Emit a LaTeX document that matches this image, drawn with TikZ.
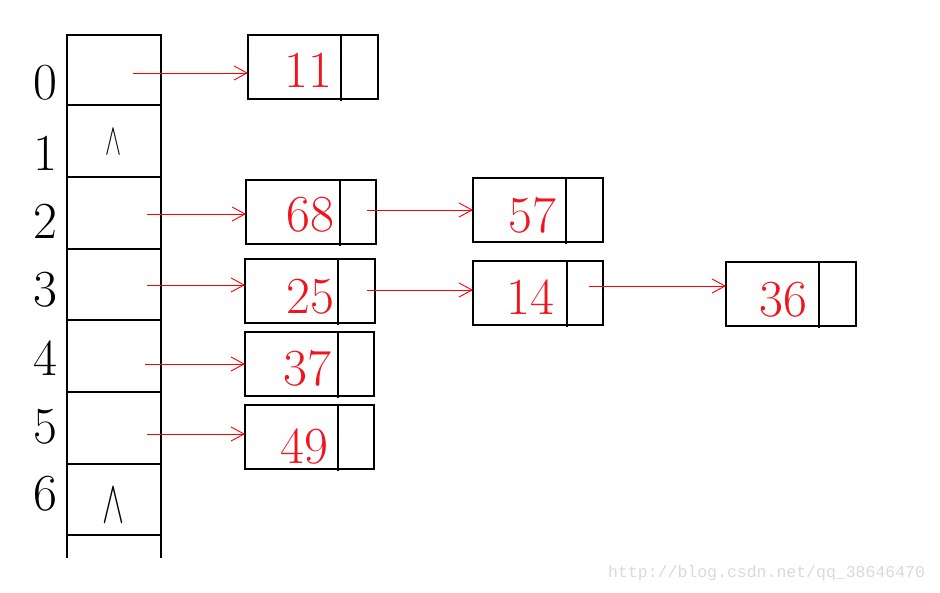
\documentclass[tikz,border=0pt]{standalone}
\usepackage{fontspec}
\newfontfamily\wmfont{Liberation Mono}
\usetikzlibrary{arrows.meta}
\definecolor{myred}{RGB}{240,20,30}
\definecolor{wmgray}{RGB}{218,218,212}
\tikzset{
  cellbox/.style={draw, line width=1.4pt, anchor=north west, inner sep=0pt, outer sep=0pt, minimum width=94pt},
  listbox/.style={draw, line width=1.4pt, anchor=north west, inner sep=0pt, outer sep=0pt, minimum width=130pt, minimum height=64pt},
  idx/.style={font=\fontsize{52}{52}\selectfont, inner sep=0pt},
  num/.style={font=\fontsize{52}{52}\selectfont, text=myred, inner sep=0pt},
  nil/.style={inner sep=0pt},
  arr/.style={draw=red, line width=0.9pt, -{Straight Barb[length=13pt,width=14pt,line width=0.9pt]}},
  divider/.style={line width=1.4pt}
}
\begin{document}
\begin{tikzpicture}[x=1pt,y=-1pt]
\useasboundingbox (0,0) rectangle (940,593);
% array cells
\node[cellbox, minimum height=70pt] (c0) at (67,35) {};
\node[cellbox, minimum height=72pt] (c1) at (67,105) {};
\node[cellbox, minimum height=72pt] (c2) at (67,177) {};
\node[cellbox, minimum height=71pt] (c3) at (67,249) {};
\node[cellbox, minimum height=72pt] (c4) at (67,320) {};
\node[cellbox, minimum height=72pt] (c5) at (67,392) {};
\node[cellbox, minimum height=71pt] (c6) at (67,464) {};
\coordinate (bl) at (67,558);
\coordinate (br) at (161,558);
\draw[line width=1.4pt] (c6.south west) -- (bl);
\draw[line width=1.4pt] (c6.south east) -- (br);
% indices
\node[idx] (i0) at (45,83) {0};
\node[idx] (i1) at (45,153) {1};
\node[idx] (i2) at (45,221) {2};
\node[idx] (i3) at (45,290) {3};
\node[idx] (i4) at (45,358) {4};
\node[idx] (i5) at (45,427) {5};
\node[idx] (i6) at (45,494) {6};
% nil marks
\node[nil] (w1) at (113,142) {\resizebox{16pt}{25pt}{$\wedge$}};
\node[nil] (w6) at (114,505) {\resizebox{22pt}{34pt}{$\wedge$}};
% list nodes
\node[listbox] (n11) at (248,35) {};
\node[listbox] (n68) at (246,180) {};
\node[listbox] (n57) at (473,178) {};
\node[listbox] (n25) at (245,259) {};
\node[listbox] (n14) at (473,261) {};
\node[listbox] (n36) at (726,262) {};
\node[listbox, minimum width=129pt] (n37) at (245,332) {};
\node[listbox, minimum width=129pt] (n49) at (245,405) {};
\foreach \n/\d in {n11/93, n68/94, n57/93, n25/93, n14/94, n36/93, n37/93, n49/93}
  \draw[divider] ([xshift=\d pt]\n.north west) -- ([xshift=\d pt, yshift=-2pt]\n.south west);
% numbers
\node[num] (t11) at (308,70) {11};
\node[num] (t68) at (310,215) {68};
\node[num] (t57) at (532,215) {57};
\node[num] (t25) at (310,297) {25};
\node[num] (t14) at (530,297) {14};
\node[num] (t36) at (783,300) {36};
\node[num] (t37) at (307,368) {37};
\node[num] (t49) at (304,447) {49};
% arrow start points
\coordinate (s0) at (133,73);
\coordinate (s2) at (147,214);
\coordinate (s68) at (367,210);
\coordinate (s3) at (147,285);
\coordinate (s25) at (367,290);
\coordinate (s14) at (589,286);
\coordinate (s4) at (145,364);
\coordinate (s5) at (147,434);
\draw[arr] (s0) -- (n11.west |- s0);
\draw[arr] (s2) -- (n68.west |- s2);
\draw[arr] (s68) -- (n57.west |- s68);
\draw[arr] (s3) -- (n25.west |- s3);
\draw[arr] (s25) -- (n14.west |- s25);
\draw[arr] (s14) -- (n36.west |- s14);
\draw[arr] (s4) -- (n37.west |- s4);
\draw[arr] (s5) -- (n49.west |- s5);
% watermark
\node[text=wmgray, font=\wmfont\fontsize{16.5}{16.5}\selectfont, anchor=west, inner sep=0pt] (wm) at (608,573) {http://blog.csdn.net/qq\_38646470};
\end{tikzpicture}
\end{document}
